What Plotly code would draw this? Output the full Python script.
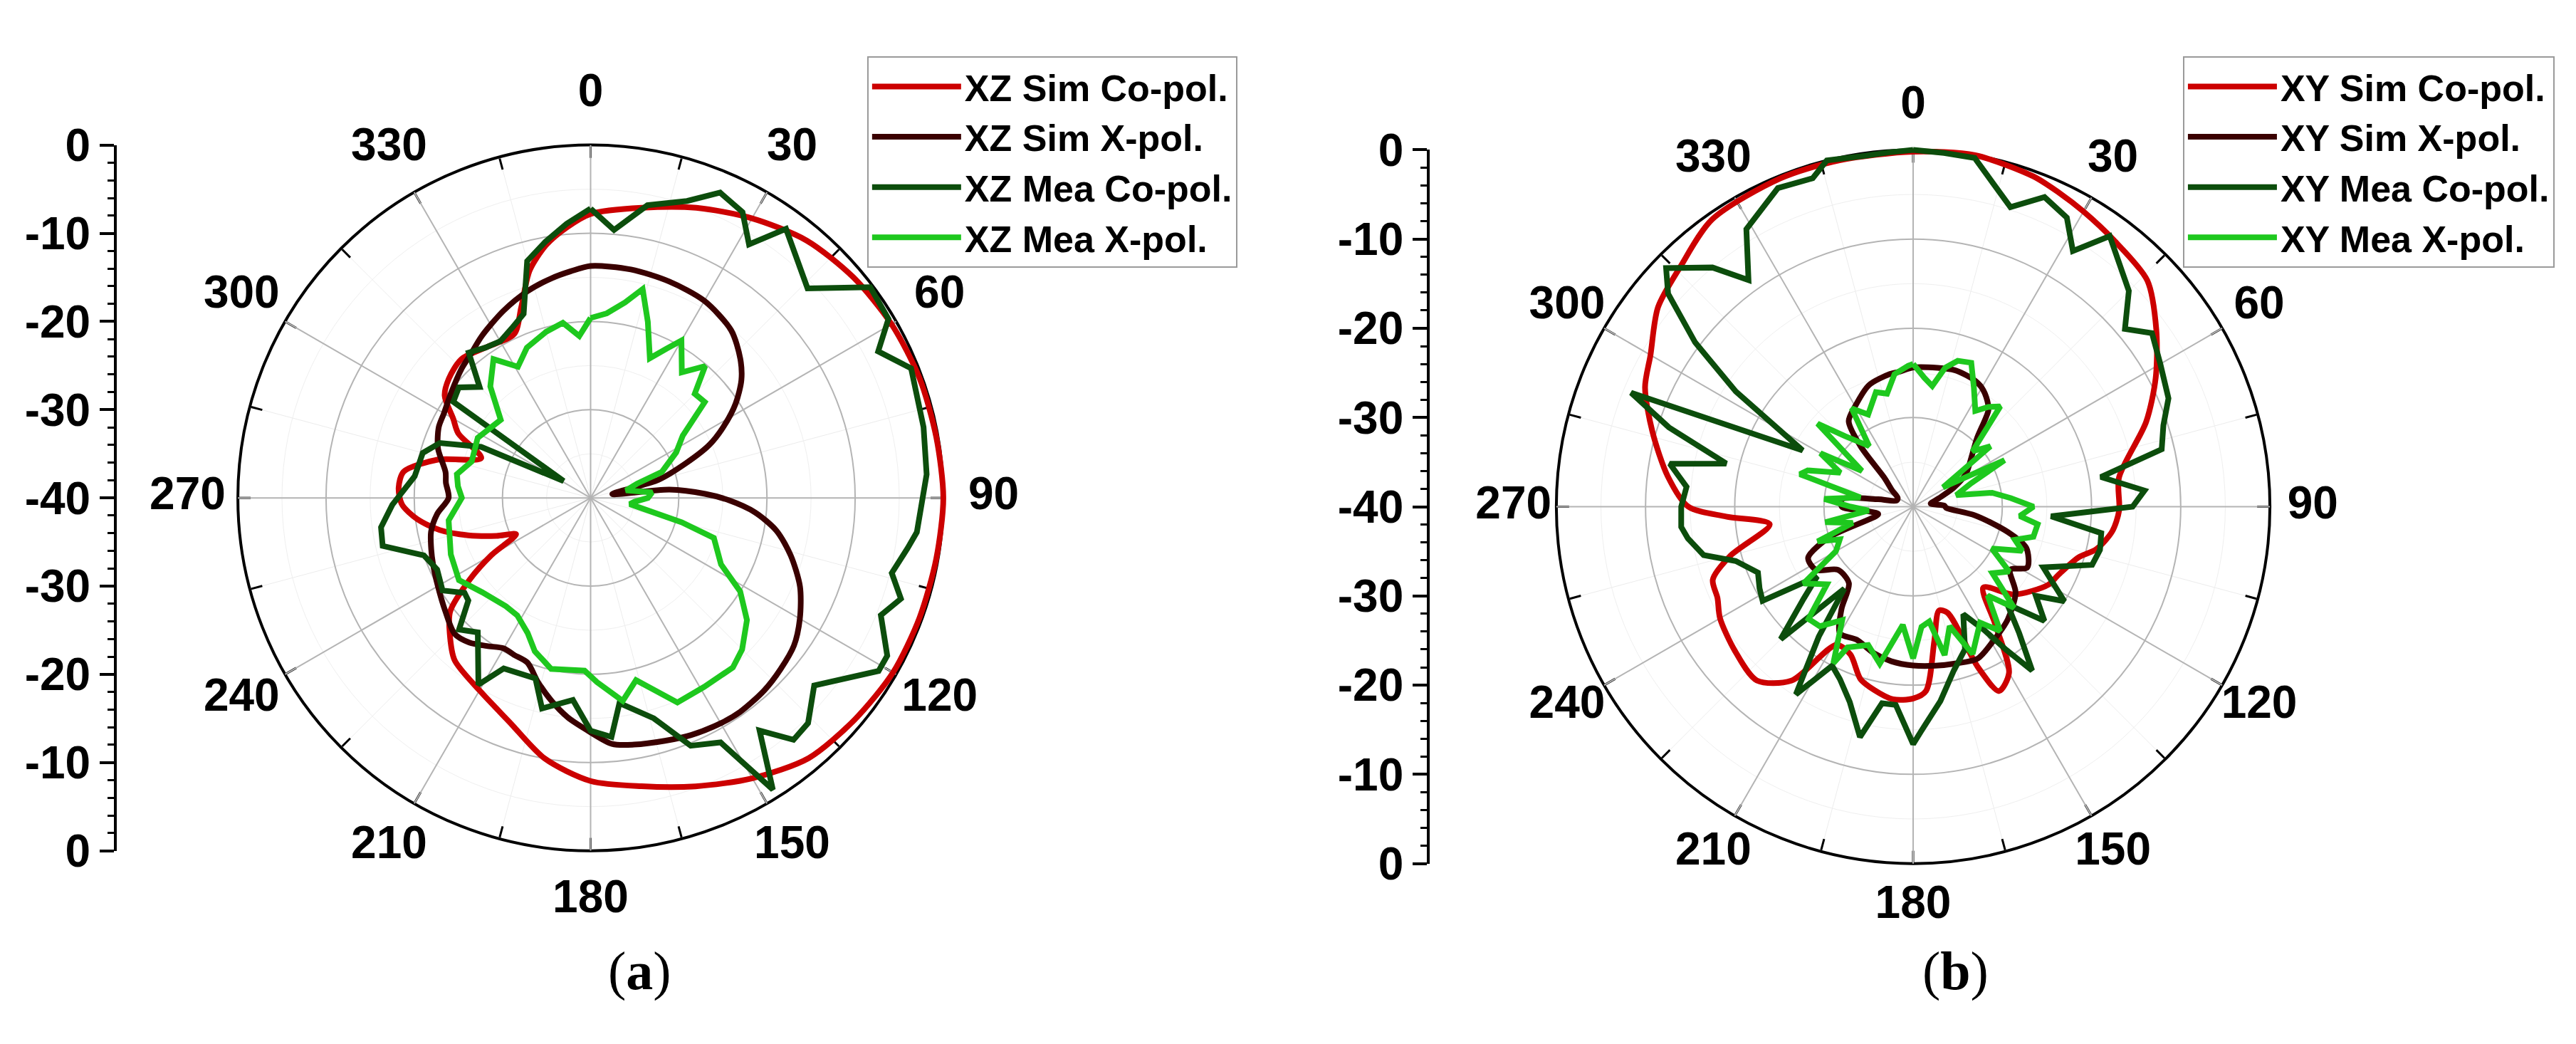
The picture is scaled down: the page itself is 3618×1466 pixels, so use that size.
import plotly.graph_objects as go

# ---------------- (a) XZ plane ----------------
xz_sim_co_theta = [0, 10, 20, 30, 40, 50, 60, 70, 80, 90, 100, 110, 120, 130, 140, 150, 160, 170,
                   180, 190, 200, 210, 220, 226, 231, 236, 240, 244, 248, 253, 258, 263, 268, 273,
                   278, 284, 290, 296, 300, 305, 310, 317, 325, 335, 340, 345, 350, 355, 360]
xz_sim_co_r = [-7.8, -6.6, -5.0, -3.4, -1.9, -1.1, -0.6, -0.3, -0.2, 0.0, -0.2, -0.3, -0.4, -0.9,
               -1.5, -3.3, -5.2, -6.8, -7.9, -10.0, -13.0, -14.8, -16.0, -17.8, -19.5, -23.5, -27.0,
               -30.6, -28.5, -25.5, -22.5, -20.2, -18.6, -18.2, -18.6, -22.1, -26.8, -23.3, -22.0,
               -19.8, -19.0, -18.5, -19.2, -19.5, -17.0, -13.3, -10.9, -9.2, -7.8]

xz_sim_x_theta = [0, 10, 20, 30, 40, 47, 52, 57, 62, 66, 70, 75, 80, 84, 88, 91, 95, 100, 106, 113,
                  120, 126, 132, 138, 145, 150, 157, 163, 170, 175, 181, 186, 191, 196, 201, 206,
                  210, 215, 220, 225, 232, 240, 247, 252, 258, 264, 270, 276, 280, 288, 295, 300,
                  307, 315, 320, 326, 335, 343, 350, 355, 360]
xz_sim_x_r = [-13.7, -13.7, -13.9, -14.2, -15.2, -16.8, -18.3, -20.4, -23.0, -25.3, -28.5, -32.0,
              -37.5, -31.0, -27.0, -24.3, -21.3, -18.6, -16.4, -14.2, -12.6, -11.5, -11.0, -10.6,
              -10.4, -10.5, -10.8, -11.2, -11.6, -12.0, -13.7, -15.0, -16.6, -18.3, -20.0, -20.2,
              -20.3, -19.5, -18.6, -18.2, -19.1, -20.0, -20.6, -21.0, -21.5, -22.5, -23.9, -23.5,
              -23.3, -21.8, -21.0, -20.8, -20.2, -19.3, -18.8, -17.9, -16.6, -15.5, -14.7, -14.2,
              -13.7]

xz_mea_co_theta = [0, 5, 11, 18, 23, 28, 32, 36, 46, 53, 59, 63, 68, 78, 86, 96, 99, 104, 108, 112,
                   118, 121, 130, 136, 140, 144, 148, 152, 158, 164, 172, 175, 180, 185, 193, 197,
                   207, 211, 220, 225, 230, 233, 238, 245, 251, 257, 262, 268, 277, 285, 290, 295,
                   302, 305, 310, 315, 320, 325, 330, 335, 340, 345, 350, 355, 360]
xz_mea_co_r = [-7.2, -9.5, -6.2, -4.6, -2.4, -3.3, -6.1, -2.3, -5.8, -0.3, -0.6, -3.4, -0.8, -1.4,
               -1.8, -2.8, -3.6, -4.8, -3.0, -4.5, -1.9, -1.9, -6.9, -4.5, -4.2, -7.4, -1.0, -8.6,
               -9.7, -14.0, -16.5, -12.8, -13.6, -17.0, -15.5, -18.6, -18.3, -15.3, -20.1, -18.9,
               -21.9, -22.1, -20.2, -20.8, -20.0, -15.8, -16.0, -17.5, -19.9, -20.3, -21.8, -26.3,
               -36.4, -21.0, -20.5, -22.2, -18.5, -19.2, -19.5, -18.8, -17.8, -12.2, -10.5, -8.8,
               -7.2]

xz_mea_x_theta = [0, 5, 10, 14, 18, 23, 27, 30, 36, 41, 45, 50, 56, 62, 70, 73, 78, 85, 90, 95, 99,
                  105, 108, 117, 122, 128, 135, 140, 149, 157, 162, 166, 171, 178, 182, 193, 200,
                  205, 212, 218, 229, 238, 248, 261, 270, 275, 280, 287, 298, 311, 318, 325, 331,
                  337, 345, 351, 356, 360]
xz_mea_x_r = [-19.6, -19.0, -17.5, -15.6, -19.0, -22.8, -21.0, -19.4, -22.4, -20.2, -23.3, -23.1,
              -27.4, -29.0, -31.4, -34.5, -35.9, -33.0, -33.5, -35.0, -35.5, -29.3, -25.3, -23.4,
              -20.0, -17.5, -15.7, -14.9, -15.0, -14.8, -17.2, -18.7, -16.7, -19.1, -20.4, -20.1,
              -21.5, -23.1, -24.3, -24.4, -23.7, -22.4, -22.9, -23.7, -25.4, -24.9, -24.6, -25.9,
              -25.5, -26.5, -23.0, -20.8, -23.0, -21.5, -20.5, -19.9, -21.6, -19.6]

# ---------------- (b) XY plane ----------------
xy_sim_co_theta = [0, 10, 20, 25, 30, 37, 46, 54, 62, 70, 82, 91, 97, 103, 107, 115, 120, 131, 139,
                   145, 150, 155, 158, 162, 166, 171, 176, 180, 186, 192, 197, 203, 209, 215, 222,
                   231, 240, 245, 250, 255, 263, 267, 270, 277, 286, 294, 300, 308, 316, 325, 338,
                   348, 360]
xy_sim_co_r = [-0.2, 0.0, -0.6, -1.2, -1.8, -2.6, -3.5, -6.3, -9.2, -12.2, -16.7, -16.9, -17.5,
               -18.9, -20.6, -22.0, -22.5, -25.0, -28.0, -24.0, -18.5, -17.2, -20.6, -27.5, -28.0,
               -24.8, -19.3, -18.5, -18.3, -19.0, -19.8, -22.0, -22.3, -16.2, -13.8, -14.3, -15.0,
               -15.8, -16.1, -18.8, -23.8, -19.0, -14.8, -12.3, -9.6, -7.1, -6.0, -3.7, -2.5, -0.7,
               -0.3, -0.3, -0.2]

xy_sim_x_theta = [0, 10, 17, 25, 30, 35, 38, 43, 50, 58, 65, 72, 80, 88, 92, 98, 105, 110, 118, 123,
                  130, 140, 149, 157, 165, 172, 180, 188, 195, 203, 210, 215, 220, 230, 237, 244,
                  250, 258, 264, 270, 276, 282, 290, 300, 308, 315, 319, 323, 330, 340, 350, 354,
                  360]
xy_sim_x_r = [-24.4, -24.2, -24.0, -24.2, -24.6, -25.5, -26.3, -29.5, -31.5, -33.0, -35.0, -37.0,
              -38.0, -36.5, -36.3, -33.0, -29.0, -26.5, -25.5, -27.0, -25.0, -23.5, -22.5, -21.5,
              -21.8, -22.0, -22.2, -22.5, -23.0, -23.8, -23.6, -26.0, -28.8, -29.0, -27.0, -26.9,
              -30.0, -36.0, -35.0, -32.0, -32.0, -36.0, -38.0, -38.0, -37.0, -35.5, -31.0, -28.0,
              -27.0, -25.5, -24.9, -24.8, -24.4]

xy_mea_co_theta = [0, 5, 10, 18, 23, 28, 32, 36, 45, 50, 54, 60, 67, 72, 77, 81, 86, 90, 94, 98,
                   103, 108, 115, 122, 126, 131, 136, 140, 144, 147, 150, 155, 160, 166, 172, 178,
                   180, 185, 189, 193, 198, 203, 207, 212, 216, 220, 225, 230, 234, 238, 242, 247,
                   253, 257, 262, 265, 270, 275, 280, 283, 288, 292, 297, 303, 307, 311, 314, 320,
                   324, 329, 337, 343, 346, 352, 356, 360]
xy_mea_co_r = [0.0, -0.2, -0.3, -4.7, -2.3, -3.3, -6.2, -2.5, -5.8, -9.0, -6.9, -8.0, -8.9, -10.5,
               -11.4, -18.7, -14.0, -15.4, -24.5, -18.7, -18.5, -18.9, -23.9, -20.0, -23.0, -20.5,
               -24.8, -21.5, -17.3, -20.9, -24.0, -26.7, -23.0, -21.1, -18.0, -14.8, -13.4, -17.7,
               -17.7, -13.5, -17.0, -19.0, -20.0, -15.2, -22.0, -28.0, -19.0, -24.0, -26.7, -20.1,
               -20.5, -21.1, -19.2, -15.9, -14.5, -13.9, -14.0, -14.5, -12.3, -18.5, -11.2, -5.9,
               -26.1, -16.3, -9.4, -3.6, -1.5, -5.0, -8.6, -3.7, -1.2, -1.5, 0.0, -0.3, -0.2, 0.0]

xy_mea_x_theta = [0, 5, 9, 13, 17, 22, 27, 33, 37, 41, 47, 52, 57, 63, 68, 75, 80, 85, 90, 95, 98,
                  104, 108, 112, 118, 124, 130, 135, 140, 145, 150, 158, 163, 168, 172, 176, 180,
                  185, 192, 198, 205, 207, 212, 218, 223, 228, 235, 240, 246, 250, 255, 260, 265,
                  270, 275, 280, 286, 289, 295, 300, 305, 311, 316, 324, 328, 334, 342, 347, 352,
                  358, 360]
xy_mea_x_r = [-24.0, -25.5, -26.3, -24.0, -22.9, -22.6, -25.0, -27.2, -26.0, -25.1, -30.9, -29.0,
              -36.0, -28.5, -33.0, -35.0, -31.0, -29.0, -26.5, -28.0, -25.9, -26.1, -28.0, -26.8,
              -30.0, -27.0, -28.4, -24.0, -27.0, -23.0, -25.0, -22.2, -26.0, -23.0, -27.0, -26.5,
              -23.0, -26.7, -22.0, -23.7, -22.6, -20.3, -25.0, -23.0, -22.8, -27.0, -25.0, -30.0,
              -31.0, -28.6, -33.0, -30.0, -35.0, -33.0, -30.0, -34.0, -26.8, -27.5, -31.0, -28.0,
              -33.0, -25.8, -29.0, -31.6, -27.0, -28.5, -26.5, -27.0, -25.0, -24.2, -24.0]

# ---------------- axis labels ----------------
angle_vals = list(range(0, 360, 30))
angle_text = [str(a) for a in angle_vals]
minor_angle_vals = list(range(0, 360, 15))
grid_db = [-30, -20, -10]
minor_grid_db = [-35, -25, -15, -5]
scale_vals = [40, 30, 20, 10, 0, -10, -20, -30, -40]
scale_text = ["0", "-10", "-20", "-30", "-40", "-30", "-20", "-10", "0"]

# ---------------- geometry / style ----------------
W, H = 3618, 1466
R_MIN = -40
LEFT_CENTER, LEFT_RADIUS, LEFT_LABEL_R = (821.5, 689), 521, 5.7
RIGHT_CENTER, RIGHT_RADIUS, RIGHT_LABEL_R = (2679, 702), 527, 4.8
LABEL_PAD = 0.5  # extra dB beyond the label circle so the labels stay in range

RED = "#cc0000"
BROWN = "#3a0000"
DARK_GREEN = "#0c4d0c"
LIGHT_GREEN = "#1ec81e"
SANS = "Liberation Sans, Arial, sans-serif"
SERIF = "Liberation Serif, Times New Roman, serif"


def domain_for(center, radius):
    cx, cy = center
    return dict(x=[(cx - radius) / W, (cx + radius) / W],
                y=[(H - cy - radius) / H, (H - cy + radius) / H])


def base_polar(center, radius):
    """Bottom layer: white disc, faint 15 deg spokes and 5 dB rings, ticks, rim."""
    return dict(
        domain=domain_for(center, radius),
        bgcolor="white",
        angularaxis=dict(
            rotation=90, direction="clockwise", tickmode="array",
            tickvals=minor_angle_vals, ticks="inside", ticklen=16, tickwidth=3,
            tickcolor="black", showticklabels=False, showgrid=True,
            gridcolor="#ececec", gridwidth=1, showline=True, linecolor="black",
            linewidth=4,
        ),
        radialaxis=dict(
            range=[R_MIN, 0], tickmode="array", tickvals=minor_grid_db,
            showticklabels=False, ticks="", showline=False, gridcolor="#efefef",
            gridwidth=1,
        ),
    )


def grid_polar(center, radius):
    """Middle layer: 30 deg spokes and 10 dB rings."""
    return dict(
        domain=domain_for(center, radius),
        bgcolor="rgba(0,0,0,0)",
        angularaxis=dict(
            rotation=90, direction="clockwise", tickmode="array",
            tickvals=angle_vals, showticklabels=False, ticks="", showline=False,
            gridcolor="#b4b4b4", gridwidth=1.5,
        ),
        radialaxis=dict(
            range=[R_MIN, 0], tickmode="array", tickvals=grid_db,
            showticklabels=False, ticks="", showline=False, gridcolor="#b4b4b4",
            gridwidth=1.5,
        ),
    )


def data_polar(center, radius, label_r):
    """Top layer: same dB scale, extended outwards so the angle labels fit."""
    r_max = label_r + LABEL_PAD
    outer = radius * (r_max - R_MIN) / (0 - R_MIN)
    return dict(
        domain=domain_for(center, outer),
        bgcolor="rgba(0,0,0,0)",
        angularaxis=dict(rotation=90, direction="clockwise", showgrid=False,
                         showline=False, showticklabels=False, ticks=""),
        radialaxis=dict(range=[R_MIN, r_max], showgrid=False, showline=False,
                        showticklabels=False, ticks=""),
    )


def scale_axis(center, radius, anchor):
    """Stand-alone dB scale drawn to the left of each polar plot."""
    return dict(
        domain=domain_for(center, radius)["y"], anchor=anchor, range=[-40, 40],
        tickmode="array", tickvals=scale_vals, ticktext=scale_text,
        ticks="outside", ticklen=20, tickwidth=4, tickcolor="black",
        showline=True, linewidth=4, linecolor="black", showgrid=False,
        zeroline=False,
        tickfont=dict(family=SANS, size=64, color="black", weight="bold"),
        minor=dict(dtick=2, ticks="outside", ticklen=9, tickwidth=3,
                   tickcolor="black"),
    )


def curve(theta, r, name, color, subplot, legend, smooth):
    return go.Scatterpolar(
        theta=theta, r=r, name=name, mode="lines", subplot=subplot, legend=legend,
        line=dict(color=color, width=8, shape="spline" if smooth else "linear",
                  smoothing=0.8),
        hoverinfo="skip",
    )


def angle_labels(subplot, label_r):
    """Angle labels centred on a circle just outside the 0 dB rim."""
    return go.Scatterpolar(
        theta=angle_vals, r=[label_r] * len(angle_vals), text=angle_text,
        mode="text", subplot=subplot, cliponaxis=False, showlegend=False,
        hoverinfo="skip", textposition="middle center",
        textfont=dict(family=SANS, size=64, color="black", weight="bold"),
    )


def placeholder_polar(subplot):
    return go.Scatterpolar(r=[R_MIN], theta=[0], mode="markers", subplot=subplot,
                           marker=dict(opacity=0), showlegend=False, hoverinfo="skip")


fig = go.Figure()

# empty traces so every layer and the two scales are rendered
for sp in ["polar", "polar2", "polar3", "polar4"]:
    fig.add_trace(placeholder_polar(sp))
for xa, ya in [("x", "y"), ("x2", "y2")]:
    fig.add_trace(go.Scatter(x=[0], y=[0], xaxis=xa, yaxis=ya, mode="markers",
                             marker=dict(opacity=0), showlegend=False,
                             hoverinfo="skip"))

fig.add_trace(curve(xz_sim_co_theta, xz_sim_co_r, "XZ Sim Co-pol.", RED, "polar5", "legend", True))
fig.add_trace(curve(xz_sim_x_theta, xz_sim_x_r, "XZ Sim X-pol.", BROWN, "polar5", "legend", True))
fig.add_trace(curve(xz_mea_co_theta, xz_mea_co_r, "XZ Mea Co-pol.", DARK_GREEN, "polar5", "legend", False))
fig.add_trace(curve(xz_mea_x_theta, xz_mea_x_r, "XZ Mea X-pol.", LIGHT_GREEN, "polar5", "legend", False))

fig.add_trace(curve(xy_sim_co_theta, xy_sim_co_r, "XY Sim Co-pol.", RED, "polar6", "legend2", True))
fig.add_trace(curve(xy_sim_x_theta, xy_sim_x_r, "XY Sim X-pol.", BROWN, "polar6", "legend2", True))
fig.add_trace(curve(xy_mea_co_theta, xy_mea_co_r, "XY Mea Co-pol.", DARK_GREEN, "polar6", "legend2", False))
fig.add_trace(curve(xy_mea_x_theta, xy_mea_x_r, "XY Mea X-pol.", LIGHT_GREEN, "polar6", "legend2", False))

fig.add_trace(angle_labels("polar5", LEFT_LABEL_R))
fig.add_trace(angle_labels("polar6", RIGHT_LABEL_R))

legend_style = dict(
    xanchor="left", yanchor="top", bgcolor="white", bordercolor="#9a9a9a",
    borderwidth=2, tracegroupgap=0, itemwidth=125,
    font=dict(family=SANS, size=52, color="black", weight="bold"),
)

fig.update_layout(
    width=W, height=H,
    margin=dict(l=0, r=0, t=0, b=0),
    paper_bgcolor="white", plot_bgcolor="rgba(0,0,0,0)",
    polar=base_polar(LEFT_CENTER, LEFT_RADIUS),
    polar2=base_polar(RIGHT_CENTER, RIGHT_RADIUS),
    polar3=grid_polar(LEFT_CENTER, LEFT_RADIUS),
    polar4=grid_polar(RIGHT_CENTER, RIGHT_RADIUS),
    polar5=data_polar(LEFT_CENTER, LEFT_RADIUS, LEFT_LABEL_R),
    polar6=data_polar(RIGHT_CENTER, RIGHT_RADIUS, RIGHT_LABEL_R),
    xaxis=dict(domain=[0.0431, 0.06], visible=False, range=[0, 1]),
    yaxis=scale_axis(LEFT_CENTER, LEFT_RADIUS, "x"),
    xaxis2=dict(domain=[0.5528, 0.57], visible=False, range=[0, 1]),
    yaxis2=scale_axis(RIGHT_CENTER, RIGHT_RADIUS, "x2"),
    legend=dict(x=0.3344, y=0.9748, **legend_style),
    legend2=dict(x=0.8452, y=0.9748, **legend_style),
    showlegend=True,
    annotations=[
        dict(text="(<b>a</b>)", x=0.2462, y=0.0538, xref="paper", yref="paper",
             xanchor="center", yanchor="middle", showarrow=False,
             font=dict(family=SERIF, size=76, color="black")),
        dict(text="(<b>b</b>)", x=0.7568, y=0.0538, xref="paper", yref="paper",
             xanchor="center", yanchor="middle", showarrow=False,
             font=dict(family=SERIF, size=76, color="black")),
    ],
)

fig.write_html("out.html")
